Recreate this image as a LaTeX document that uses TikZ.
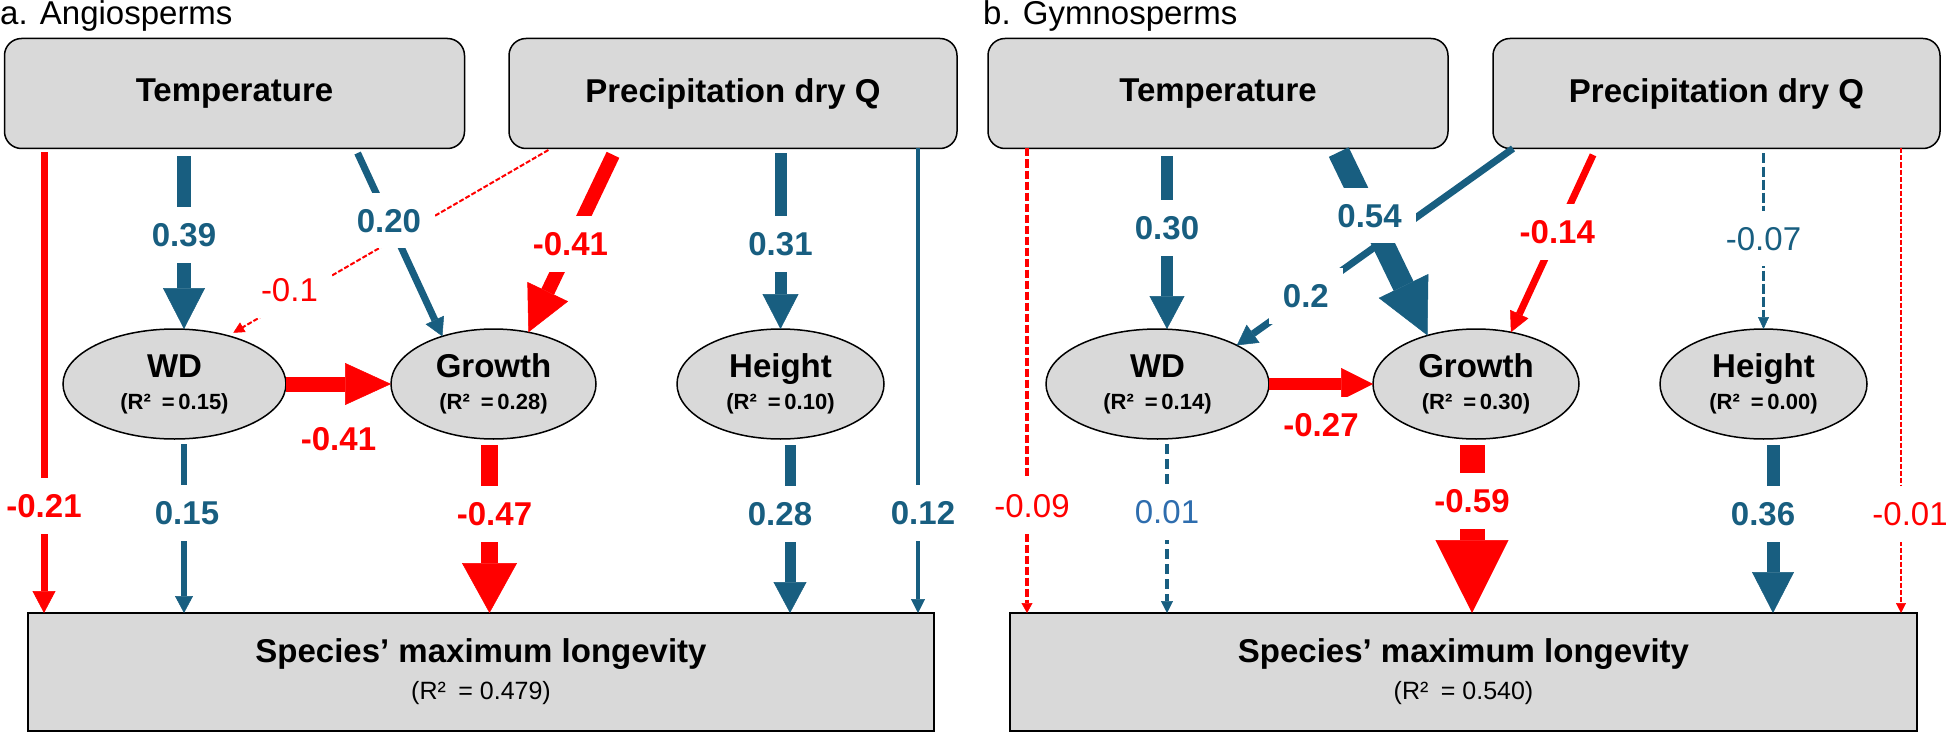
\documentclass[tikz,border=0pt]{standalone}
\usepackage{fontspec}
\setmainfont{Liberation Sans}
\usetikzlibrary{arrows.meta,shapes.geometric}
\definecolor{pathblue}{HTML}{185E80}
\definecolor{pathred}{HTML}{FF0000}
\definecolor{weakblue}{HTML}{2E6DAE}
\definecolor{boxgrey}{HTML}{D9D9D9}
\begin{document}
\begin{tikzpicture}[x=1pt,y=-1pt,
	box/.style={draw=black, line width=1.5pt, fill=boxgrey, rounded corners=17pt, minimum width=460pt, minimum height=110pt, inner sep=0pt, outer sep=0pt, font=\bfseries\fontsize{33}{38}\selectfont},
	trait/.style={ellipse, draw=black, line width=1.5pt, fill=boxgrey, minimum height=110pt, inner sep=0pt, outer sep=0pt, align=center, font=\bfseries\fontsize{33}{32}\selectfont},
	resp/.style={draw=black, line width=1.5pt, fill=boxgrey, minimum width=906pt, minimum height=118pt, inner sep=0pt, outer sep=0pt, align=center, font=\bfseries\fontsize{33}{37}\selectfont},
	effect/.style n args={3}{line width=#1, -{Triangle[width=#2, length=#3, line width=0.5pt]}},
	lab/.style={fill=white, inner xsep=14pt, inner ysep=16pt, font=\bfseries\fontsize{33}{33}\selectfont},
	labr/.style={lab, font=\fontsize{33}{33}\selectfont}]
	\useasboundingbox (0,0) rectangle (1949,733);
	\def\rsq#1{{\fontsize{22}{22}\selectfont (R²\enspace=\,#1)}}
	\def\rsqlong#1{{\mdseries\fontsize{25}{25}\selectfont (R²\enspace= #1)}}
	% a. Angiosperms
	\node[anchor=base west, inner sep=0pt, font=\fontsize{33}{33}\selectfont] (titleA) at (0,25) {a. Angiosperms};
	\node[box] (tempA) at (234.5,93.5) {Temperature};
	\node[box, minimum width=448pt] (precA) at (733,93.5) {Precipitation dry Q};
	\node[trait, minimum width=223pt] (wdA) at (174.5,384) {WD\\\rsq{0.15}};
	\node[trait, minimum width=205pt] (growA) at (493.5,384) {Growth\\\rsq{0.28}};
	\node[trait, minimum width=207pt] (hgtA) at (780.5,384) {Height\\\rsq{0.10}};
	\node[resp] (longA) at (481,672) {Species’ maximum longevity\\\rsqlong{0.479}};
	\draw[pathred, effect={7pt}{23pt}{22pt}, shorten <=4pt] ([xshift=16pt]longA.north west |- tempA.south) -- node[lab, text=pathred, pos=0.77]{-0.21} ([xshift=16pt]longA.north west);
	\draw[pathblue, effect={14pt}{42pt}{41pt}, shorten <=8pt] ([xshift=9.5pt]wdA.north |- tempA.south) -- node[lab, text=pathblue, pos=0.48]{0.39} ([xshift=9.5pt]wdA.north);
	\draw[pathred, effect={2pt}{11pt}{11pt}, dash pattern=on 5pt off 2pt, shorten <=3pt, shorten >=6pt] ([xshift=42pt]precA.south west) -- node[labr, text=pathred, pos=0.81, yshift=10pt]{-0.1} (wdA.42);
	\draw[pathblue, effect={7pt}{20pt}{18pt}, shorten <=5pt] ([xshift=121pt]tempA.south) -- node[lab, text=pathblue, pos=0.385]{0.20} (growA.137);
	\draw[pathred, effect={14pt}{45pt}{45pt}, shorten <=7pt] ([xshift=107pt]precA.south west) -- node[lab, text=pathred, pos=0.52]{-0.41} (growA.56);
	\draw[pathblue, effect={12pt}{36pt}{35pt}, shorten <=5pt] (hgtA.north |- precA.south) -- node[lab, text=pathblue, pos=0.53]{0.31} (hgtA.north);
	\draw[pathblue, effect={3.5pt}{14pt}{14pt}] ([xshift=-16pt]longA.north east |- precA.south) -- node[lab, text=pathblue, pos=0.785, xshift=5pt]{0.12} ([xshift=-16pt]longA.north east);
	\draw[pathred, effect={15pt}{42pt}{46pt}] (wdA.east) -- node[lab, text=pathred, pos=0.5, yshift=-55pt]{-0.41} (growA.west);
	\draw[pathblue, effect={6pt}{18pt}{17pt}, shorten <=5pt] ([xshift=9.5pt]wdA.south) -- node[lab, text=pathblue, pos=0.425, xshift=3pt]{0.15} ([xshift=9.5pt]wdA.south |- longA.north);
	\draw[pathred, effect={17pt}{55pt}{50pt}, shorten <=6pt] ([xshift=-4pt]growA.south) -- node[lab, text=pathred, pos=0.43, xshift=5pt]{-0.47} ([xshift=-4pt]growA.south |- longA.north);
	\draw[pathblue, effect={11pt}{33pt}{31pt}, shorten <=6pt] ([xshift=9.5pt]hgtA.south) -- node[lab, text=pathblue, pos=0.43, xshift=-10pt]{0.28} ([xshift=9.5pt]hgtA.south |- longA.north);
	% b. Gymnosperms
	\node[anchor=base west, inner sep=0pt, font=\fontsize{33}{33}\selectfont] (titleB) at (983,25) {b. Gymnosperms};
	\node[box] (tempB) at (1218,93.5) {Temperature};
	\node[box, minimum width=447pt] (precB) at (1716.5,93.5) {Precipitation dry Q};
	\node[trait, minimum width=223pt] (wdB) at (1157.5,384) {WD\\\rsq{0.14}};
	\node[trait, minimum width=206pt] (growB) at (1476,384) {Growth\\\rsq{0.30}};
	\node[trait, minimum width=207pt] (hgtB) at (1763.5,384) {Height\\\rsq{0.00}};
	\node[resp, minimum width=907pt] (longB) at (1463.5,672) {Species’ maximum longevity\\\rsqlong{0.540}};
	\draw[pathred, effect={3.5pt}{11pt}{10pt}, dash pattern=on 8pt off 3pt] ([xshift=17pt]longB.north west |- tempB.south) -- node[labr, text=pathred, pos=0.77, xshift=5pt]{-0.09} ([xshift=17pt]longB.north west);
	\draw[pathblue, effect={12pt}{35pt}{33pt}, shorten <=8pt] ([xshift=9.5pt]wdB.north |- tempB.south) -- node[lab, text=pathblue, pos=0.44]{0.30} ([xshift=9.5pt]wdB.north);
	\draw[pathblue, effect={7pt}{22pt}{20pt}] ([xshift=20pt]precB.south west) -- node[lab, text=pathblue, pos=0.75]{0.2} (wdB.26);
	\draw[pathblue, effect={22pt}{55pt}{55pt}, shorten <=4pt] ([xshift=119pt]tempB.south) -- node[lab, text=pathblue, pos=0.36]{0.54} (growB.135);
	\draw[pathred, effect={7pt}{20pt}{20pt}, shorten <=7pt] ([xshift=103pt]precB.south west) -- node[lab, text=pathred, pos=0.455]{-0.14} (growB.56);
	\draw[pathblue, effect={3.5pt}{11pt}{12pt}, dash pattern=on 10pt off 3pt, shorten <=5pt] (hgtB.north |- precB.south) -- node[labr, text=pathblue, pos=0.5]{-0.07} (hgtB.north);
	\draw[pathred, effect={2pt}{10pt}{10pt}, dash pattern=on 5pt off 2pt] ([xshift=-16pt]longB.north east |- precB.south) -- node[labr, text=pathred, pos=0.787, xshift=9pt]{-0.01} ([xshift=-16pt]longB.north east);
	\draw[pathred, effect={12pt}{32pt}{32pt}] (wdB.east) -- node[lab, text=pathred, pos=0.5, yshift=-41pt]{-0.27} (growB.west);
	\draw[pathblue, effect={4pt}{12pt}{12pt}, dash pattern=on 10pt off 5pt, shorten <=5pt] ([xshift=9.5pt]wdB.south) -- node[labr, text=weakblue, pos=0.42]{0.01} ([xshift=9.5pt]wdB.south |- longB.north);
	\draw[pathred, effect={25pt}{73pt}{73pt}, shorten <=6pt] ([xshift=-4pt]growB.south) -- node[lab, text=pathred, pos=0.356]{-0.59} ([xshift=-4pt]growB.south |- longB.north);
	\draw[pathblue, effect={13pt}{42pt}{41pt}, shorten <=6pt] ([xshift=9.5pt]hgtB.south) -- node[lab, text=pathblue, pos=0.43, xshift=-10pt]{0.36} ([xshift=9.5pt]hgtB.south |- longB.north);
\end{tikzpicture}
\end{document}
